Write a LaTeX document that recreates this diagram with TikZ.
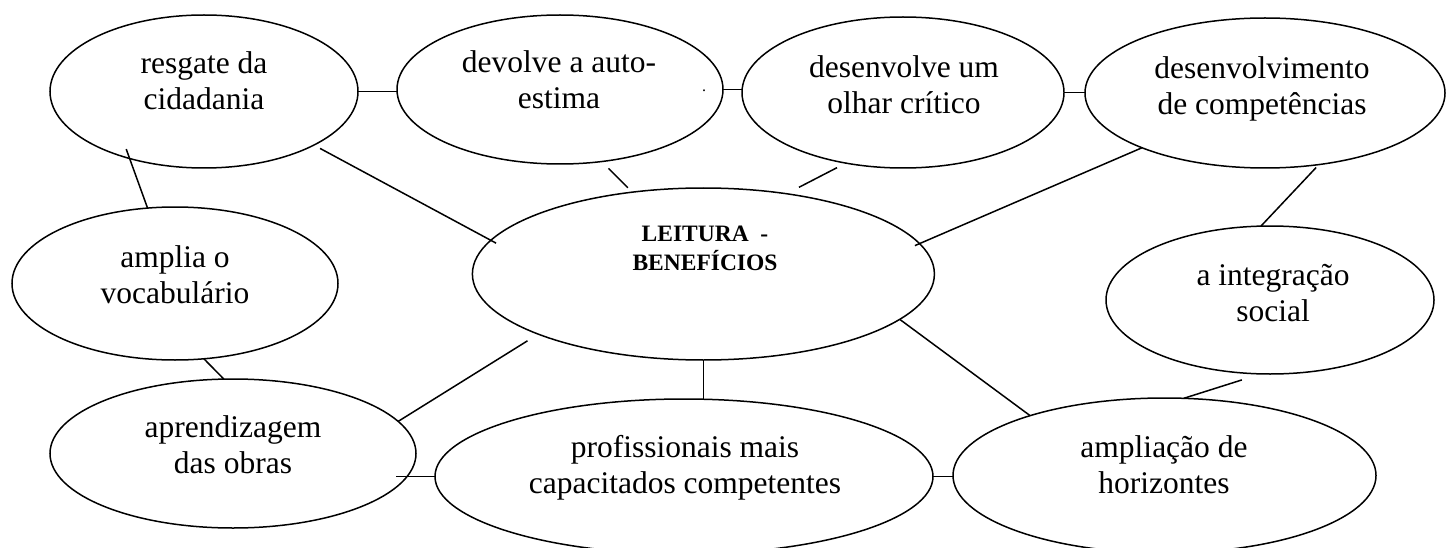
\documentclass[tikz,border=0pt]{standalone}
\usepackage{fontspec}
\setmainfont{Liberation Serif}
\usetikzlibrary{shapes.geometric}
\begin{document}
\begin{tikzpicture}[x=1pt,y=-1pt,
  bubble/.style={draw, ellipse, line width=1.5pt, inner sep=0pt, outer sep=0pt},
  lbl/.style={align=center, inner sep=0pt, font=\fontsize{31.5}{36.5}\selectfont},
  title/.style={align=center, inner sep=0pt, font=\bfseries\fontsize{23.5}{26}\selectfont},
  link/.style={line width=1.5pt}]
\fill[white] (0,0) rectangle (1447,548);
\useasboundingbox (0,0) rectangle (1447,548);

% ellipses
\node[bubble, minimum width=308pt, minimum height=153pt] (e1) at (204,91.5) {};
\node[bubble, minimum width=326pt, minimum height=149pt] (e2) at (560,89.5) {};
\node[bubble, minimum width=322pt, minimum height=151pt] (e3) at (903,92.5) {};
\node[bubble, minimum width=360pt, minimum height=150pt] (e4) at (1265,93) {};
\node[bubble, minimum width=462pt, minimum height=172pt] (e5) at (703.4,274) {};
\node[bubble, minimum width=326pt, minimum height=153pt] (e6) at (175,283.5) {};
\node[bubble, minimum width=366pt, minimum height=149pt] (e7) at (233,453.5) {};
\node[bubble, minimum width=498pt, minimum height=155pt] (e8) at (684,476.5) {};
\node[bubble, minimum width=423pt, minimum height=155pt] (e9) at (1164.5,475.5) {};
\node[bubble, minimum width=328pt, minimum height=148pt] (e10) at (1270,300) {};

% texts
\node[lbl] (t1) at (204,84) {\strut resgate da\\\strut cidadania};
\node[lbl] (t2) at (559,83) {\strut devolve a auto-\\\strut estima};
\node[lbl] (t3) at (904,88) {\strut desenvolve um\\\strut olhar crítico};
\node[lbl] (t4) at (1262,89) {\strut desenvolvimento\\\strut de competências};
\node[title] (t5) at (705,250.8) {\strut LEITURA~~-\\\strut BENEFÍCIOS};
\node[lbl] (t6) at (175,278) {\strut amplia o\\\strut vocabulário};
\node[lbl] (t7) at (233,448) {\strut aprendizagem\\\strut das obras};
\node[lbl] (t8) at (685,468) {\strut profissionais mais\\\strut capacitados competentes};
\node[lbl] (t9) at (1164,468) {\strut ampliação de\\\strut horizontes};
\node[lbl] (t10) at (1273,296) {\strut a integração\\\strut social};
\node[anchor=base, inner sep=0pt, font=\fontsize{16}{18}\selectfont] (dot) at (704,92) {.};

% connectors
\draw[link] (e1.east) -- (e1.east -| e2.west);
\draw[link] (e2.east) -- (e2.east -| e3.west);
\draw[link] (e3.east) -- (e3.east -| e4.west);
\draw[link, shorten <=7pt, shorten >=-6pt] (e1.-26.4) -- (e5.171.8);
\draw[link, shorten <=9.7pt, shorten >=6.3pt] (e2.-60) -- (e5.131.5);
\draw[link, shorten <=10pt, shorten >=14pt] (e3.231.8) -- (e5.44.4);
\draw[link, shorten >=-5pt] (e4.204.4) -- (e5.8.2);
\draw[link, shorten <=4pt] (e4.-53.3) -- (e10.97.7);
\draw[link, shorten <=20pt] (e10.263) -- (e9.76.3);
\draw[link] (e5.-13.7) -- (e9.156.6);
\draw[link] (e5.south) -- (e5.south |- e8.north);
\draw[link] (e8.east) -- (e8.east -| e9.west);
\draw[link, shorten <=-20pt] (e7.east |- e8.west) -- (e8.west);
\draw[link, shorten >=12.7pt] (e7.11.7) -- (e5.200.4);
\draw[link] (e6.-69) -- (e7.97.7);
\draw[link, shorten <=-10pt] (e1.222.5) -- (e6.110);
\end{tikzpicture}
\end{document}
